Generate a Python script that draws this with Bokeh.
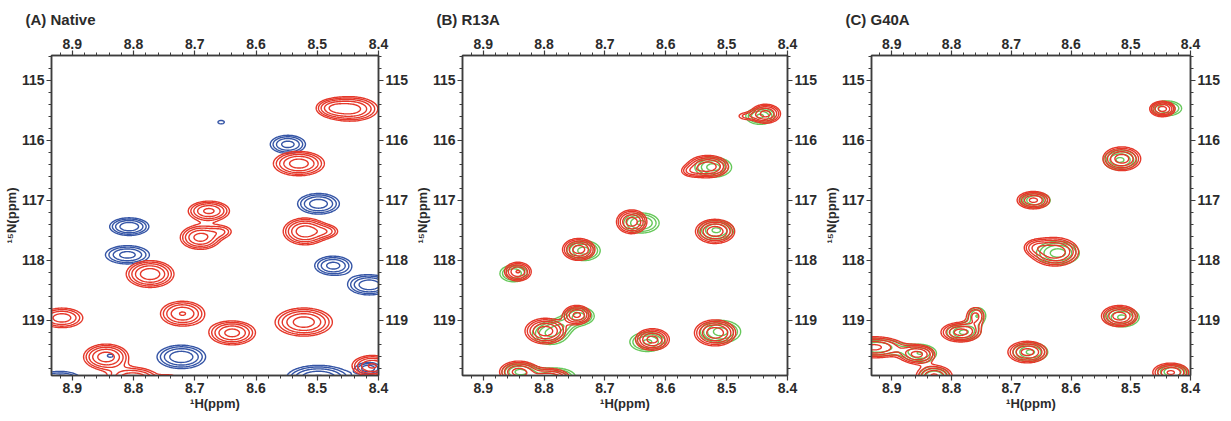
import numpy as np
from bokeh.plotting import figure
from bokeh.models import Range1d, LinearAxis, SingleIntervalTicker
from bokeh.layouts import row
from bokeh.embed import file_html
from bokeh.resources import INLINE

# ---- axis definitions -------------------------------------------------
H_LIMITS = (8.934, 8.4)        # 1H (ppm), reversed
N_LIMITS = (119.92, 114.59)    # 15N (ppm), reversed (115 at top)

# ---- Panel A: Native (red / blue spectra) --------------------------------
a_red_h   = [8.446, 8.478, 8.530, 8.677, 8.691, 8.655, 8.520, 8.482, 8.773, 8.720, 8.639, 8.522, 8.917, 8.845, 8.800, 8.741, 8.410]
a_red_n   = [115.48, 115.46, 116.39, 117.18, 117.62, 117.52, 117.52, 117.52, 118.23, 118.89, 119.21, 119.03, 118.96, 119.61, 119.98, 120.00, 119.76]
a_red_amp = [4.0, 1.6, 4.0, 3.6, 3.8, 1.5, 4.2, 1.5, 4.2, 3.4, 3.8, 4.0, 3.0, 4.0, 3.5, 2.0, 3.5]
a_red_wh  = [0.027, 0.016, 0.025, 0.021, 0.020, 0.014, 0.021, 0.014, 0.023, 0.023, 0.023, 0.028, 0.023, 0.022, 0.026, 0.012, 0.021]
a_red_wn  = [0.122, 0.088, 0.122, 0.103, 0.122, 0.077, 0.132, 0.077, 0.132, 0.132, 0.122, 0.141, 0.110, 0.128, 0.120, 0.066, 0.110]

a_blue_h   = [8.657, 8.548, 8.498, 8.807, 8.810, 8.474, 8.415, 8.722, 8.498, 8.416, 8.920, 8.945, 8.838]
a_blue_n   = [115.70, 116.07, 117.06, 117.44, 117.91, 118.09, 118.41, 119.61, 119.96, 119.80, 120.00, 118.52, 119.59]
a_blue_amp = [1.15, 2.8, 3.0, 3.2, 2.8, 2.8, 3.2, 3.2, 3.5, 2.2, 2.5, 1.3, 1.2]
a_blue_wh  = [0.010, 0.020, 0.023, 0.021, 0.025, 0.021, 0.023, 0.026, 0.033, 0.015, 0.026, 0.010, 0.008]
a_blue_wn  = [0.055, 0.105, 0.116, 0.096, 0.106, 0.110, 0.110, 0.128, 0.132, 0.077, 0.110, 0.066, 0.044]

# ---- Panel B: R13A (green = reference, red = mutant) -----------------------
b_red_h   = [8.436, 8.470, 8.531, 8.560, 8.656, 8.519, 8.743, 8.843, 8.746, 8.798, 8.622, 8.519, 8.842, 8.790]
b_red_n   = [115.56, 115.60, 116.44, 116.52, 117.36, 117.52, 117.82, 118.19, 118.91, 119.18, 119.32, 119.21, 119.86, 119.98]
b_red_amp = [3.8, 1.3, 4.2, 1.3, 4.0, 4.2, 4.0, 3.4, 3.6, 4.0, 3.8, 4.2, 3.8, 3.5]
b_red_wh  = [0.015, 0.012, 0.020, 0.012, 0.015, 0.019, 0.016, 0.014, 0.014, 0.020, 0.017, 0.020, 0.019, 0.021]
b_red_wn  = [0.097, 0.055, 0.110, 0.066, 0.119, 0.119, 0.110, 0.100, 0.099, 0.128, 0.110, 0.128, 0.110, 0.110]

b_green_h   = [8.445, 8.522, 8.640, 8.517, 8.735, 8.850, 8.742, 8.770, 8.790, 8.630, 8.510, 8.840, 8.780]
b_green_n   = [115.60, 116.45, 117.38, 117.50, 117.84, 118.22, 118.93, 119.08, 119.22, 119.36, 119.19, 119.86, 119.95]
b_green_amp = [2.6, 2.8, 2.6, 2.6, 2.8, 2.4, 2.8, 1.3, 2.6, 2.6, 2.8, 2.6, 2.6]
b_green_wh  = [0.017, 0.021, 0.021, 0.021, 0.019, 0.017, 0.017, 0.014, 0.021, 0.021, 0.023, 0.021, 0.023]
b_green_wn  = [0.099, 0.116, 0.121, 0.121, 0.116, 0.105, 0.105, 0.088, 0.132, 0.116, 0.132, 0.110, 0.110]

# ---- Panel C: G40A (green = reference, red = mutant) -----------------------
c_red_h   = [8.447, 8.515, 8.663, 8.627, 8.660, 8.519, 8.785, 8.760, 8.673, 8.857, 8.930, 8.829, 8.433]
c_red_n   = [115.48, 116.31, 117.00, 117.86, 117.78, 118.93, 119.20, 118.93, 119.53, 119.57, 119.45, 119.93, 119.87]
c_red_amp = [3.8, 4.0, 3.6, 4.4, 1.6, 4.0, 3.8, 2.0, 3.8, 3.6, 3.6, 3.5, 3.5]
c_red_wh  = [0.013, 0.019, 0.017, 0.023, 0.014, 0.018, 0.020, 0.012, 0.020, 0.018, 0.031, 0.019, 0.019]
c_red_wn  = [0.080, 0.119, 0.091, 0.138, 0.088, 0.106, 0.099, 0.120, 0.110, 0.096, 0.110, 0.110, 0.099]

c_green_h   = [8.440, 8.518, 8.660, 8.622, 8.515, 8.780, 8.757, 8.668, 8.852, 8.925, 8.829, 8.430]
c_green_n   = [115.47, 116.33, 117.00, 117.88, 118.95, 119.20, 118.92, 119.53, 119.55, 119.45, 119.93, 119.86]
c_green_amp = [2.4, 2.6, 2.4, 2.8, 2.6, 2.6, 1.8, 2.6, 2.4, 2.4, 2.4, 2.4]
c_green_wh  = [0.019, 0.020, 0.019, 0.025, 0.021, 0.020, 0.013, 0.021, 0.020, 0.031, 0.019, 0.019]
c_green_wn  = [0.094, 0.121, 0.099, 0.138, 0.116, 0.105, 0.120, 0.116, 0.105, 0.110, 0.110, 0.099]

# contour levels (relative intensity)
LEVELS = [1.0, 1.35, 1.82, 2.46, 3.32]

RED = "#e5382a"
BLUE = "#3555a6"
GREEN = "#66c85a"
AXIS = "#3c3c3c"
FONT = "Liberation Sans"

gx = np.linspace(8.37, 8.97, 320)
gy = np.linspace(114.4, 120.3, 420)
GX, GY = np.meshgrid(gx, gy)


def spectrum(h, n, amp, wh, wn):
    z = np.zeros_like(GX)
    for h0, n0, a, sh, sn in zip(h, n, amp, wh, wn):
        z += a * np.exp(-0.5 * ((GX - h0) / sh) ** 2 - 0.5 * ((GY - n0) / sn) ** 2)
    return z


def style_axis(ax, label=None):
    ax.axis_line_color = AXIS
    ax.axis_line_width = 1.5
    ax.major_tick_line_color = AXIS
    ax.minor_tick_line_color = AXIS
    ax.major_tick_line_width = 1.2
    ax.minor_tick_line_width = 1
    ax.major_tick_in = 0
    ax.major_tick_out = 5
    ax.minor_tick_in = 0
    ax.minor_tick_out = 3
    ax.major_label_text_font = FONT
    ax.major_label_text_font_style = "bold"
    ax.major_label_text_font_size = "14px"
    ax.major_label_text_color = "#2b2b2b"
    ax.major_label_standoff = 2
    if label:
        ax.axis_label = label
        ax.axis_label_text_font = FONT
        ax.axis_label_text_font_style = "bold"
        ax.axis_label_text_font_size = "13px"
        ax.axis_label_text_color = "#2b2b2b"
        ax.axis_label_standoff = 0


def make_panel(title, layers, width):
    p = figure(width=width, height=413,
               x_range=Range1d(*H_LIMITS), y_range=Range1d(*N_LIMITS),
               x_axis_location=None, y_axis_location=None,
               output_backend="svg", toolbar_location=None,
               min_border_left=40, min_border_right=8,
               min_border_top=10, min_border_bottom=0)
    p.grid.visible = False
    p.outline_line_color = AXIS
    p.outline_line_width = 1.5
    p.background_fill_color = "white"
    p.border_fill_color = "white"

    for loc in ("below", "above"):
        ax = LinearAxis(ticker=SingleIntervalTicker(interval=0.1, num_minor_ticks=5))
        style_axis(ax, "\u00b9H(ppm)" if loc == "below" else None)
        p.add_layout(ax, loc)
    for loc in ("left", "right"):
        ax = LinearAxis(ticker=SingleIntervalTicker(interval=1, num_minor_ticks=5))
        style_axis(ax, "\u00b9\u2075N(ppm)" if loc == "left" else None)
        p.add_layout(ax, loc)

    for z, color in layers:
        p.contour(gx, gy, z, LEVELS, line_color=color, line_width=1.4)

    p.title.text = title
    p.title.align = "left"
    p.title.offset = -26
    p.title.text_font = FONT
    p.title.text_font_style = "bold"
    p.title.text_font_size = "15px"
    p.title.text_color = "#2b2b2b"
    p.title.standoff = 16
    return p


pA = make_panel("(A) Native",
                [(spectrum(a_blue_h, a_blue_n, a_blue_amp, a_blue_wh, a_blue_wn), BLUE),
                 (spectrum(a_red_h, a_red_n, a_red_amp, a_red_wh, a_red_wn), RED)], 411)
pB = make_panel("(B) R13A",
                [(spectrum(b_green_h, b_green_n, b_green_amp, b_green_wh, b_green_wn), GREEN),
                 (spectrum(b_red_h, b_red_n, b_red_amp, b_red_wh, b_red_wn), RED)], 409)
pC = make_panel("(C) G40A",
                [(spectrum(c_green_h, c_green_n, c_green_amp, c_green_wh, c_green_wn), GREEN),
                 (spectrum(c_red_h, c_red_n, c_red_amp, c_red_wh, c_red_wn), RED)], 403)

layout = row(pA, pB, pC)
open("out.html", "w").write(file_html(layout, INLINE))
